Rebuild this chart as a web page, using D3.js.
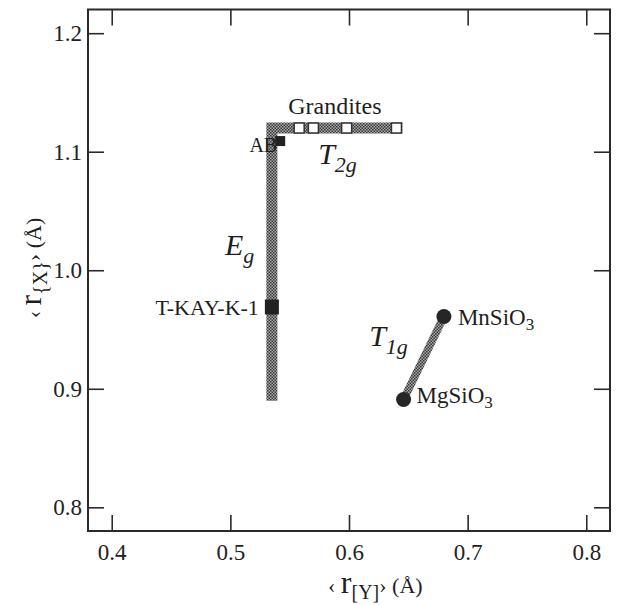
<!DOCTYPE html>
<html>
<head>
<meta charset="utf-8">
<script src="https://cdn.jsdelivr.net/npm/d3@7"></script>
<style>
    body { margin: 0; background: #fff; }
</style>
</head>
<body>
<svg width="621" height="605"></svg>
<script>
"use strict"

// ticks
const xTicks = [0.4, 0.5, 0.6, 0.7, 0.8]
const yTicks = [0.8, 0.9, 1.0, 1.1, 1.2]

// E_g + T_2g band (corner at AB)
const bandX = [0.535, 0.535, 0.645]
const bandY = [0.89, 1.12, 1.12]

// grandite compositions (open squares)
const grandX = [0.558, 0.570, 0.598, 0.640]
const grandY = [1.12, 1.12, 1.12, 1.12]

// samples (filled squares)
const sampleNames = ["AB", "T-KAY-K-1"]
const sampleX = [0.542, 0.535]
const sampleY = [1.109, 0.969]

// T_1g end members
const endNames = ["Mg", "Mn"]
const endX = [0.646, 0.680]
const endY = [0.891, 0.961]

const serif = "Liberation Serif"

let svg = d3.select("svg")
const area = { left: 88, right: 610, top: 9.5, bottom: 531 }

const scX = d3.scaleLinear().domain([0.38, 0.82]).range([area.left, area.right])
const scY = d3.scaleLinear().domain([0.78, 1.22]).range([area.bottom, area.top])

// hatched fill of the bands
const pat = svg.append("defs").append("pattern")
    .attr("id", "hatch")
    .attr("width", 3).attr("height", 3)
    .attr("patternUnits", "userSpaceOnUse")
pat.append("rect").attr("width", 3).attr("height", 3).attr("fill", "#aaa")
pat.append("rect").attr("width", 1.5).attr("height", 1.5).attr("fill", "#363636")
pat.append("rect").attr("x", 1.5).attr("y", 1.5).attr("width", 1.5).attr("height", 1.5).attr("fill", "#363636")

// axes, ticks pointing inward on all four sides
const tk = 16
const fmt = d3.format(".1f")
const gB = svg.append("g").attr("transform", `translate(0,${area.bottom})`)
    .call(d3.axisBottom(scX).tickValues(xTicks).tickFormat(fmt).tickSizeInner(-tk).tickSizeOuter(0).tickPadding(13))
const gT = svg.append("g").attr("transform", `translate(0,${area.top})`)
    .call(d3.axisTop(scX).tickValues(xTicks).tickFormat("").tickSizeInner(-tk).tickSizeOuter(0))
const gL = svg.append("g").attr("transform", `translate(${area.left},0)`)
    .call(d3.axisLeft(scY).tickValues(yTicks).tickFormat(fmt).tickSizeInner(-tk).tickSizeOuter(0).tickPadding(6))
const gR = svg.append("g").attr("transform", `translate(${area.right},0)`)
    .call(d3.axisRight(scY).tickValues(yTicks).tickFormat("").tickSizeInner(-tk).tickSizeOuter(0))

for (let g of [gB, gT, gL, gR]) {
    g.attr("font-family", serif).attr("font-size", 23)
    g.select(".domain").remove()
    g.selectAll(".tick line").attr("stroke", "#2a2a2a").attr("stroke-width", 1.6)
    g.selectAll(".tick text").attr("fill", "#222").attr("font-family", serif)
}

svg.append("rect")
    .attr("x", area.left).attr("y", area.top)
    .attr("width", area.right - area.left).attr("height", area.bottom - area.top)
    .attr("fill", "none").attr("stroke", "#2a2a2a").attr("stroke-width", 2)

// E_g / T_2g band
const bandLine = d3.line().x(d => scX(d[0])).y(d => scY(d[1]))
svg.append("path")
    .datum(d3.zip(bandX, bandY))
    .attr("d", bandLine)
    .attr("fill", "none")
    .attr("stroke", "url(#hatch)")
    .attr("stroke-width", 11)
    .attr("stroke-linejoin", "miter")

// T_1g band
svg.append("path")
    .datum(d3.zip(endX, endY))
    .attr("d", bandLine)
    .attr("fill", "none")
    .attr("stroke", "url(#hatch)")
    .attr("stroke-width", 8)

// grandites
const sq = 10
svg.selectAll(".grand")
    .data(d3.zip(grandX, grandY))
    .enter()
    .append("rect")
    .attr("class", "grand")
    .attr("x", d => scX(d[0]) - sq / 2)
    .attr("y", d => scY(d[1]) - sq / 2)
    .attr("width", sq).attr("height", sq)
    .attr("fill", "#fff")
    .attr("stroke", "#333")
    .attr("stroke-width", 1.5)

// samples
const sampleSize = [[10, 10], [14, 15]]
svg.selectAll(".sample")
    .data(sampleNames)
    .enter()
    .append("rect")
    .attr("class", "sample")
    .attr("x", (d, i) => scX(sampleX[i]) - sampleSize[i][0] / 2)
    .attr("y", (d, i) => scY(sampleY[i]) - sampleSize[i][1] / 2)
    .attr("width", (d, i) => sampleSize[i][0])
    .attr("height", (d, i) => sampleSize[i][1])
    .attr("fill", "#222")

svg.selectAll(".end")
    .data(endNames)
    .enter()
    .append("circle")
    .attr("class", "end")
    .attr("cx", (d, i) => scX(endX[i]))
    .attr("cy", (d, i) => scY(endY[i]))
    .attr("r", 7.5)
    .attr("fill", "#262626")

// labels
const ink = "#1e1e1e"
function label(x, y, size, anchor) {
    return svg.append("text")
        .attr("x", x).attr("y", y)
        .attr("fill", ink)
        .attr("font-family", serif)
        .attr("text-anchor", anchor || "start")
        .attr("font-size", size)
}

label(scX(grandX[0]) - 11, scY(grandY[0]) - 14, 24).text("Grandites")
label(scX(sampleX[0]) - 3, scY(sampleY[0]) + 11, 20, "end").text(sampleNames[0])
label(scX(sampleX[1]) - 13, scY(sampleY[1]) + 8, 22, "end").text(sampleNames[1])

function chem(x, y, a) {
    const t = label(x, y, 23)
    t.append("tspan").text(a)
    t.append("tspan").attr("dy", 5).attr("font-size", 17).text("3")
}
chem(scX(endX[1]) + 14, scY(endY[1]) + 9, "MnSiO")
chem(scX(endX[0]) + 13, scY(endY[0]) + 4, "MgSiO")

function sym(x, y, main, sub) {
    const t = label(x, y, 30).attr("font-style", "italic")
    t.append("tspan").text(main)
    t.append("tspan").attr("dy", 8).attr("font-size", 22).text(sub)
}
sym(scX(bandX[0]) - 47, 255, "E", "g")
sym(scX(0.574), 164, "T", "2g")
sym(scX(0.617), 346, "T", "1g")

// axis titles
function axisTitle(t, sub) {
    t.append("tspan").text("‹ ")
    t.append("tspan").attr("font-size", 32).text("r")
    t.append("tspan").attr("dy", 6).attr("font-size", 20).text(sub)
    t.append("tspan").attr("dy", -6).text("›  (Å)")
}
axisTitle(label(328, 593, 22), "[Y]")
axisTitle(label(0, 0, 22, "middle").attr("transform", "translate(41,268) rotate(-90)"), "{X}")
</script>
</body>
</html>
